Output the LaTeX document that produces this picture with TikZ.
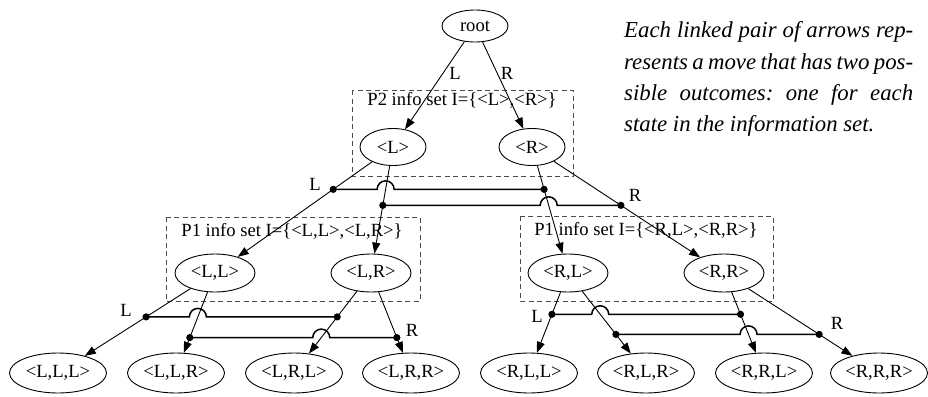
\documentclass[tikz,border=0pt]{standalone}
\usepackage{fontspec}
\setmainfont{Liberation Serif}
\usetikzlibrary{shapes,arrows,arrows.meta,calc}

\tikzset{
  state/.style={draw, ellipse, inner sep=0pt, line width=0.9pt, font=\fontsize{18.6}{20}\selectfont},
  move/.style={-{Triangle[length=11pt,width=8pt]}, line width=0.9pt},
  link/.style={line width=1.5pt},
  infoset/.style={draw=black!70, line width=0.9pt, dash pattern=on 5pt off 3.5pt},
  lbl/.style={inner sep=0pt, font=\fontsize{18.6}{20}\selectfont}
}

\begin{document}
\begin{tikzpicture}[x=1pt,y=-1pt]
\useasboundingbox (0,0) rectangle (928,396);
% information sets
\draw [infoset] (352,90) rectangle (573,176);
\draw [infoset] (166,217) rectangle (420,301);
\draw [infoset] (520,216) rectangle (773,301);
\node[lbl] (set2) at (462,100) {P2 info set I=\{<L>,<R>\}};
\node[lbl] (set1L) at (292,231) {P1 info set I=\{<L,L>,<L,R>\}};
\node[lbl] (set1R) at (646,230) {P1 info set I=\{<R,L>,<R,R>\}};
% states
\node[state, minimum width=66pt, minimum height=32pt] (root) at (475,26) {root};
\node[state, minimum width=66pt, minimum height=37pt] (L) at (393,147) {<L>};
\node[state, minimum width=66pt, minimum height=37pt] (R) at (532,147) {<R>};
\node[state, minimum width=80pt, minimum height=38pt] (LL) at (215,273) {<L,L>};
\node[state, minimum width=80pt, minimum height=38pt] (LR) at (371,273) {<L,R>};
\node[state, minimum width=80pt, minimum height=38pt] (RL) at (568,273) {<R,L>};
\node[state, minimum width=80pt, minimum height=38pt] (RR) at (724,273) {<R,R>};
\foreach \n/\t/\x in {LLL/{L,L,L}/58, LLR/{L,L,R}/176, LRL/{L,R,L}/294, LRR/{L,R,R}/411,
                      RLL/{R,L,L}/529, RLR/{R,L,R}/646, RRL/{R,R,L}/764, RRR/{R,R,R}/879} {
    \node[state, minimum width=97pt, minimum height=40pt] (\n) at (\x,373) {<\t>};
}
% moves
\draw [move] (root) -- (L);
\draw [move] (root) -- (R);
\foreach \p/\c in {L/LL, L/LR, R/RL, R/RR, LL/LLL, LL/LLR, LR/LRL, LR/LRR, RL/RLL, RL/RLR, RR/RRL, RR/RRR} {
    \draw [move] (\p) -- (\c);
}
\node[lbl] (mL0) at (455,73) {L};
\node[lbl] (mR0) at (507,73) {R};
\node[lbl] (mL1) at (315,184) {L};
\node[lbl] (mR1) at (635,195) {R};
\node[lbl] (mL2) at (126,310) {L};
\node[lbl] (mR2) at (412,330) {R};
\node[lbl] (mL3) at (537,316) {L};
\node[lbl] (mR3) at (837,323) {R};
% linked pairs
\coordinate (aL) at ($(L)!0.336!(LL)$);
\coordinate (aR) at ($(R)!0.336!(RL)$);
\coordinate (aX) at ($(L)!0.336!(LR)$);
\coordinate (bL) at ($(L)!0.463!(LR)$);
\coordinate (bR) at ($(R)!0.463!(RR)$);
\coordinate (bX) at ($(R)!0.463!(RL)$);
\coordinate (cL) at ($(LL)!0.439!(LLL)$);
\coordinate (cR) at ($(LR)!0.439!(LRL)$);
\coordinate (cX) at ($(LL)!0.439!(LLR)$);
\coordinate (dL) at ($(LL)!0.646!(LLR)$);
\coordinate (dR) at ($(LR)!0.646!(LRR)$);
\coordinate (dX) at ($(LR)!0.646!(LRL)$);
\coordinate (eL) at ($(RL)!0.413!(RLL)$);
\coordinate (eR) at ($(RR)!0.413!(RRL)$);
\coordinate (eX) at ($(RL)!0.413!(RLR)$);
\coordinate (fL) at ($(RL)!0.614!(RLR)$);
\coordinate (fR) at ($(RR)!0.614!(RRR)$);
\coordinate (fX) at ($(RR)!0.614!(RRL)$);
\foreach \p/\h/\q in {aL/aX/aR, bL/bX/bR, cL/cX/cR, dL/dX/dR, eL/eX/eR, fL/fX/fR} {
    \draw [link] (\p) -- ([xshift=-8.5pt]\h) arc[start angle=180, end angle=0, radius=8.5pt] -- (\q);
    \fill (\p) circle[radius=3.6pt];
    \fill (\q) circle[radius=3.6pt];
}
% note
\node[anchor=north west, inner sep=0pt, align=left, font=\fontsize{22.8}{31.3}\selectfont\itshape] (note) at (624,21.5)
  {\makebox[289pt][s]{Each linked pair of arrows rep-}\\
   \makebox[289pt][s]{resents a move that has two pos-}\\
   \makebox[289pt][s]{sible outcomes:\ one for each}\\
   \makebox[289pt][l]{state in the information set.}};
\end{tikzpicture}
\end{document}
